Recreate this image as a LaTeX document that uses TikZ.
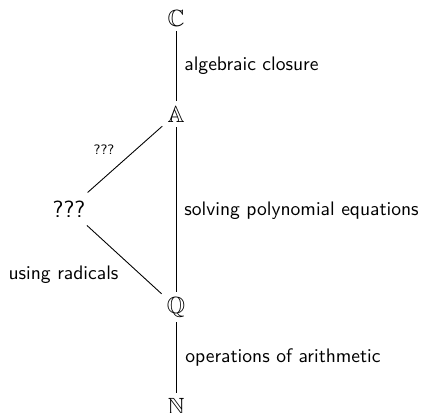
\documentclass[tikz,border=0pt]{standalone}
\usepackage{amssymb}
\begin{document}
\begin{tikzpicture}[x=0.5112pt,y=-0.5112pt,
  field/.style={inner sep=2.5pt, font=\large},
  lbl/.style={font=\sffamily, anchor=west, inner sep=0pt},
  edge/.style={draw=black, line width=0.45pt}]
\useasboundingbox (0,0) rectangle (423,412);
\node[field] (C) at (176,18) {$\mathbb{C}$};
\node[field] (A) at (176,114) {$\mathbb{A}$};
\node[field] (Q) at (176,307) {$\mathbb{Q}$};
\node[field] (N) at (176,406) {$\mathbb{N}$};
\node[font=\sffamily\large, inner sep=4pt] (X) at (69,209) {???};
\draw[edge] (C) -- (A);
\draw[edge] (A) -- (Q);
\draw[edge] (Q) -- (N);
\draw[edge] (X) -- (A);
\draw[edge] (X) -- (Q);
\node[lbl] (l1) at (184,66) {algebraic closure};
\node[lbl] (l2) at (184,211) {solving polynomial equations};
\node[lbl] (l3) at (185,357) {operations of arithmetic};
\node[lbl, anchor=center] (l4) at (63.5,275) {using radicals};
\node[font=\sffamily\scriptsize, inner sep=0pt] (l5) at (104,150) {???};
\end{tikzpicture}
\end{document}
